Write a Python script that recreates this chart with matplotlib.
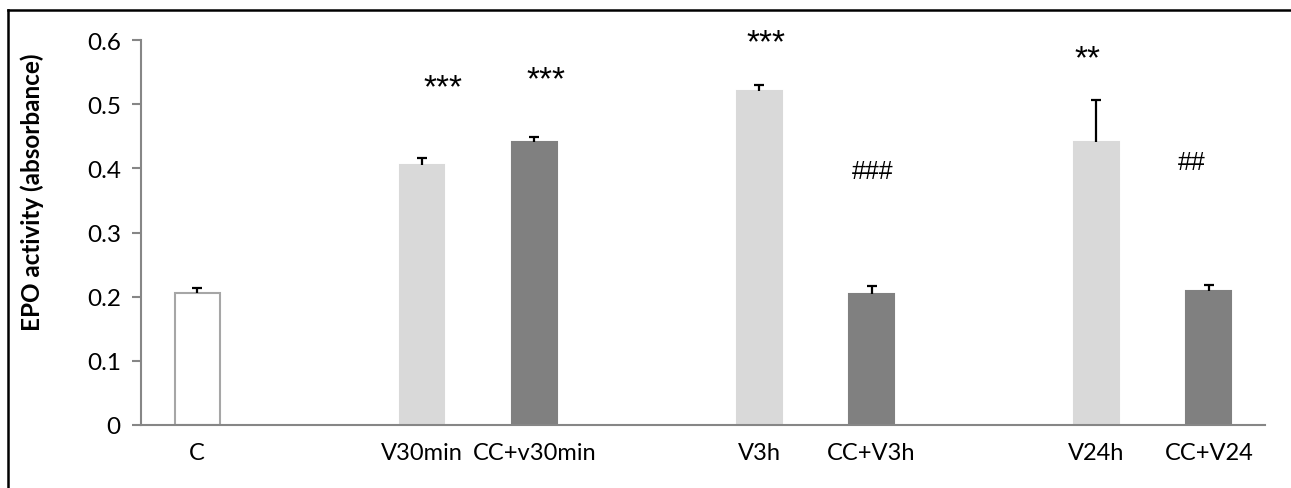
import matplotlib
matplotlib.use("Agg")
import matplotlib.pyplot as plt
from matplotlib.lines import Line2D
import numpy as np

# categories (blank slots separate the groups)
categories = ["C", "", "V30min", "CC+v30min", "", "V3h", "CC+V3h", "", "V24h", "CC+V24"]
values = [0.206, np.nan, 0.405, 0.441, np.nan, 0.520, 0.204, np.nan, 0.441, 0.209]
errors = [0.008, 0, 0.011, 0.008, 0, 0.010, 0.012, 0, 0.065, 0.009]
groups = ["ctrl", None, "v", "cc", None, "v", "cc", None, "v", "cc"]

# significance marks: (text, x in category units, baseline y)
marks = [("***", 2.19, 0.512), ("***", 3.10, 0.525), ("***", 5.06, 0.582),
         ("###", 6.01, 0.385), ("**", 7.92, 0.557), ("##", 8.85, 0.399)]

face = {"ctrl": "white", "v": "#d9d9d9", "cc": "#808080"}
edge = {"ctrl": "#a6a6a6", "v": "#d9d9d9", "cc": "#808080"}
axis_grey = "#868686"

plt.rcParams['font.family'] = ['Lato', 'DejaVu Sans']

fig = plt.figure(figsize=(12.91, 4.89), dpi=100)
ax = fig.add_axes([141/1291, 63/489, 1124/1291, 385/489])

x = np.arange(len(categories))
for i in x:
    g = groups[i]
    if g is None:
        continue
    ax.bar(i, values[i], width=0.4, color=face[g], edgecolor=edge[g], linewidth=1.5, zorder=2)
    # plus-only error bar
    top = values[i] + errors[i]
    ax.vlines(i, values[i], top, color="black", linewidth=1.6, zorder=3)
    ax.hlines(top, i - 0.045, i + 0.045, color="black", linewidth=1.6, zorder=3)

for txt, mx, my in marks:
    fs = 24 if txt.startswith("*") else 18
    ax.text(mx, my, txt, ha="center", va="baseline", fontsize=fs,
            family=["Liberation Sans"], clip_on=False)

ax.set_xlim(-0.5, 9.5)
ax.set_ylim(0, 0.6)
ax.set_yticks(np.arange(0, 0.61, 0.1))
ax.set_yticklabels(["0", "0.1", "0.2", "0.3", "0.4", "0.5", "0.6"])
ax.set_xticks(x)
ax.set_xticklabels(categories)
ax.tick_params(axis="y", length=6.5, width=1.5, color=axis_grey, pad=8, labelsize=17.5)
ax.tick_params(axis="x", length=0, pad=12, labelsize=17)

for s in ["top", "right"]:
    ax.spines[s].set_visible(False)
for s in ["left", "bottom"]:
    ax.spines[s].set_color(axis_grey)
    ax.spines[s].set_linewidth(1.5)

ax.set_ylabel("EPO activity (absorbance)", fontsize=17.5, fontweight="bold", va="center")
ax.yaxis.set_label_coords(-0.097, 0.608)

# frame around the figure (left and top edges visible)
fx = 8/1291
fy = 1 - 11/489
fig.add_artist(Line2D([fx, fx], [0, fy], transform=fig.transFigure, color="black", linewidth=1.8))
fig.add_artist(Line2D([fx, 1], [fy, fy], transform=fig.transFigure, color="black", linewidth=1.8))

fig.savefig("out.png", dpi=100)
